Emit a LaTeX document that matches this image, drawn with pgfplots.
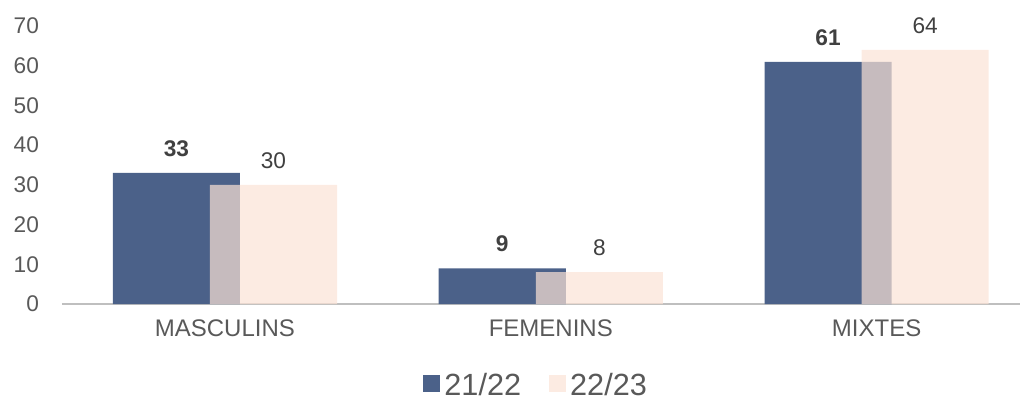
\documentclass[border=0pt]{standalone}
\usepackage{fontspec}
\setmainfont{Liberation Sans}
\usepackage{pgfplots}
\pgfplotsset{compat=1.18}
\definecolor{cblue}{HTML}{4B6189}
\definecolor{cpink}{RGB}{251,226,213}
\definecolor{tickc}{HTML}{595959}
\definecolor{labc}{HTML}{404040}
\definecolor{axl}{HTML}{BFBFBF}
\begin{document}
\begin{tikzpicture}[x=0.75pt,y=0.75pt]
\useasboundingbox (-62,-97) rectangle (964,304);
\begin{axis}[
  at={(0,0)}, anchor=south west,
  scale only axis, width=718.5pt, height=208.5pt,
  xmin=-0.5, xmax=2.44, ymin=0, ymax=70,
  axis x line*=bottom, axis y line*=left,
  x axis line style={axl, line width=1.6pt, -},
  y axis line style={draw=none},
  major tick length=0pt,
  ytick={0,10,...,70},
  xtick={0,1,2},
  xticklabels={MASCULINS,FEMENINS,MIXTES},
  /pgf/number format/assume math mode=true,
  yticklabel style={font=\fontsize{17}{20}\selectfont, text=tickc, xshift=-13.8pt},
  xticklabel style={font=\fontsize{18}{21}\selectfont, text=tickc, yshift=-8.5pt},
  ybar,
  bar width=0.39,
  nodes near coords,
  every node near coord/.append style={font=\fontsize{17}{20}\selectfont, text=labc, text opacity=1, yshift=8.5pt},
  legend style={at={(0.496,-0.344)}, anchor=south, draw=none, fill=none,
    legend columns=2, font=\fontsize{23}{27}\selectfont, text=tickc,
    nodes={inner sep=3pt, text depth=0pt},
    /tikz/every even column/.append style={column sep=18pt},
    inner sep=0pt},
  legend image code/.code={\fill[#1] (0pt,-6pt) rectangle (12.75pt,6.75pt);},
]
\addplot[fill=cblue, draw=none, bar shift=-0.149,
  every node near coord/.append style={font=\bfseries\fontsize{17}{20}\selectfont}]
  coordinates {(0,33) (1,9) (2,61)};
\addplot[fill=cpink, fill opacity=0.7, draw=none, bar shift=0.149]
  coordinates {(0,30) (1,8) (2,64)};
\legend{21/22,22/23}
\end{axis}
\end{tikzpicture}
\end{document}
